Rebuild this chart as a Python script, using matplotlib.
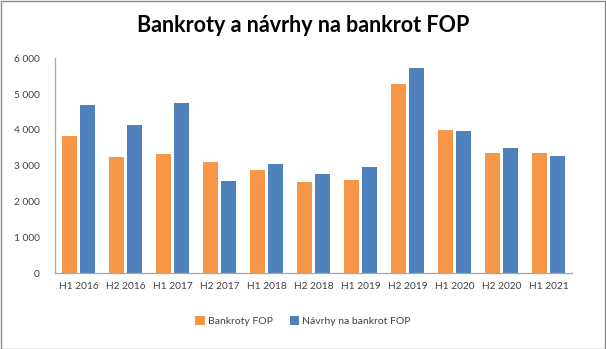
import matplotlib.pyplot as plt
from matplotlib.patches import Rectangle
import numpy as np

plt.rcParams['font.family'] = ['Lato', 'DejaVu Sans']

periods = ['H1 2016', 'H2 2016', 'H1 2017', 'H2 2017', 'H1 2018', 'H2 2018',
           'H1 2019', 'H2 2019', 'H1 2020', 'H2 2020', 'H1 2021']
bankroty = [3835, 3250, 3330, 3110, 2885, 2550, 2605, 5290, 4005, 3360, 3360]
navrhy = [4700, 4140, 4765, 2580, 3050, 2775, 2970, 5735, 3975, 3500, 3280]

orange = '#F79646'
blue = '#4F81BD'
grey = '#A6A6A6'

fig = plt.figure(figsize=(6.06, 3.49), dpi=100)
ax = fig.add_axes([55 / 606, 1 - 273.3 / 349, 517 / 606, 215 / 349])

x = np.arange(len(periods))
w = 0.3
gap = 0.085
ax.bar(x - (w + gap) / 2, bankroty, w, color=orange, label='Bankroty FOP')
ax.bar(x + (w + gap) / 2, navrhy, w, color=blue, label='Návrhy na bankrot FOP')

ax.set_xlim(-0.5, len(periods) - 0.5)
ax.set_ylim(0, 6000)
ax.set_yticks(range(0, 6001, 1000))
ax.set_yticklabels(['0' if v == 0 else f'{v // 1000} 000' for v in range(0, 6001, 1000)])
ax.set_xticks(x)
ax.set_xticklabels(periods)
ax.tick_params(axis='both', length=0, labelsize=7.3, colors='#404040')
ax.tick_params(axis='y', pad=11)
ax.tick_params(axis='x', pad=6)
for side in ['top', 'right']:
    ax.spines[side].set_visible(False)
for side in ['left', 'bottom']:
    ax.spines[side].set_color(grey)
    ax.spines[side].set_linewidth(0.9)

fig.text(0.5, 1 - 25 / 349, 'Bankroty a návrhy na bankrot FOP', ha='center', va='center',
         fontsize=15.5, fontweight='bold', color='black')

fig.legend(loc='center', bbox_to_anchor=(0.5, 1 - 321 / 349), ncol=2, frameon=False,
           fontsize=7.5, handlelength=0.9, handleheight=0.9, handletextpad=0.3,
           columnspacing=1.6, labelcolor='#404040')

# chart border
fig.patches.append(Rectangle((0.5 / 606, 0.5 / 349), 1 - 1.5 / 606, 1 - 1.5 / 349,
                             transform=fig.transFigure, fill=False,
                             edgecolor='#8C8C8C', linewidth=1))

fig.savefig('out.png', dpi=100)
